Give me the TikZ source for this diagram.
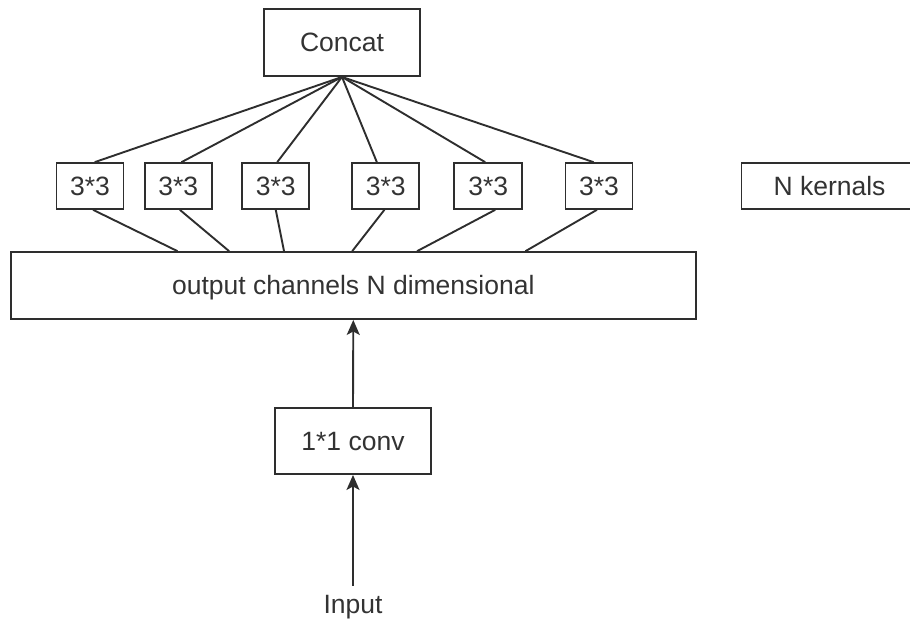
\documentclass[tikz,border=0pt]{standalone}
\usepackage{fontspec}
\setmainfont{Liberation Sans}
\usetikzlibrary{arrows.meta,calc}
\begin{document}
\begin{tikzpicture}[x=1pt,y=-1pt,
  ink/.style={draw=black!82,line width=1.9pt},
  box/.style={ink,fill=white,rectangle,inner sep=0pt,
    text=black!80,font=\fontsize{26.5}{30}\selectfont,
    text height=18.2pt,text depth=0pt},
  kbox/.style={box,minimum width=67pt,minimum height=46pt},
  wide/.style={box,minimum height=67pt},
  link/.style={ink,line cap=round},
  flow/.style={ink,-{Stealth[length=15pt,width=13pt,inset=3.5pt]}}
]
\useasboundingbox (0,0) rectangle (910,621);
\clip (0,0) rectangle (910,621);

% merge stage
\node[wide,minimum width=156pt] (concat) at (342,42.5) {Concat};

% six 3x3 kernels and the side label
\node[kbox] (k1) at (90,186) {3*3};
\node[kbox] (k2) at (178.3,186) {3*3};
\node[kbox] (k3) at (275.8,186) {3*3};
\node[kbox] (k4) at (385.8,186) {3*3};
\node[kbox,minimum width=68pt] (k5) at (488.3,186) {3*3};
\node[kbox] (k6) at (599,186) {3*3};
\node[kbox,minimum width=176pt] (nk) at (829.5,186) {N kernals};

% expanded channels
\node[wide,minimum width=685.3pt] (out) at (353.3,285.5) {output channels N dimensional};

% pointwise convolution and input
\node[wide,minimum width=156pt,minimum height=66pt] (conv) at (353,441) {1*1 conv};
\node[anchor=base,inner sep=0pt,text=black!80,font=\fontsize{26.5}{30}\selectfont] (in) at (353,613) {Input};

% kernels feeding the concat block
\draw[link] (concat.south) -- ([xshift=5pt]k1.north);
\draw[link] (concat.south) -- ([xshift=3.4pt]k2.north);
\draw[link] (concat.south) -- ([xshift=1.5pt]k3.north);
\draw[link] (concat.south) -- ([xshift=-9pt]k4.north);
\draw[link] (concat.south) -- ([xshift=-3.3pt]k5.north);
\draw[link] (concat.south) -- ([xshift=-5.7pt]k6.north);

% channels feeding the kernels
\draw[link] ([xshift=3.3pt]k1.south) -- ($(out.north west)+(167.6,0)$);
\draw[link] ([xshift=1.7pt]k2.south) -- ($(out.north west)+(219.3,0)$);
\draw[link] (k3.south) -- ($(out.north west)+(274.3,0)$);
\draw[link] ([xshift=-1.5pt]k4.south) -- ($(out.north west)+(342.6,0)$);
\draw[link] ([xshift=6.7pt]k5.south) -- ($(out.north west)+(407.6,0)$);
\draw[link] ([xshift=-2.3pt]k6.south) -- ($(out.north west)+(516,0)$);

% data flow arrows
\draw[flow] (conv.north) -- (out.south);
\draw[flow] ([yshift=9pt]in.north) -- (conv.south);
\end{tikzpicture}
\end{document}
